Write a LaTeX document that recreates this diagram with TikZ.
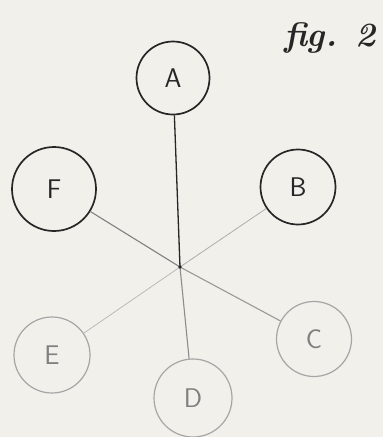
\documentclass[tikz,border=0pt]{standalone}
\usepackage{tikz}
\usetikzlibrary{backgrounds}
\definecolor{paper}{HTML}{F1F0EB}
\definecolor{ink}{HTML}{262626}
\tikzset{
  g/vertex/.style={draw=ink, circle, line width=1.7pt, inner sep=0pt, minimum size=73pt, font=\sffamily\fontsize{27}{29}\selectfont, text=ink},
  g/faint/.style={g/vertex, draw=black!35, line width=1.2pt, text=black!50},
  g/edge/.style={line width=1.3pt, draw=ink},
  g/mid/.style={line width=1.1pt, draw=black!50},
  g/thin/.style={line width=0.8pt, draw=black!32},
  g/caption/.style={font=\bfseries\itshape\fontsize{34}{36}\selectfont, text=ink}
}
\begin{document}
\begin{tikzpicture}[x=1pt,y=-1pt]

\fill[paper] (0,0) rectangle (383,437);
\useasboundingbox (0,0) rectangle (383,437);

\coordinate (hub) at (180,267);

\node[g/vertex] (A) at (173,78) {A};
\node[g/vertex, minimum size=75pt] (B) at (298,187) {B};
\node[g/faint, minimum size=75pt] (C) at (314,339) {C};
\node[g/faint, minimum size=78pt] (D) at (193,398) {D};
\node[g/faint, minimum size=76pt] (E) at (52,355) {E};
\node[g/vertex, minimum size=84pt] (F) at (54,189) {F};

\node[g/caption] (cap) at (330,38) {fig. 2};

\draw[g/edge] (A) -- (hub);
\draw[g/mid, draw=black!45] (hub) -- (D);
\draw[g/mid] (F) -- (hub);
\draw[g/mid, draw=black!40] (hub) -- (C);
\draw[g/thin] (B) -- (hub);
\draw[g/thin, draw=black!27] (hub) -- (E);

\fill[ink] (hub) circle (1.8);

\end{tikzpicture}
\end{document}
